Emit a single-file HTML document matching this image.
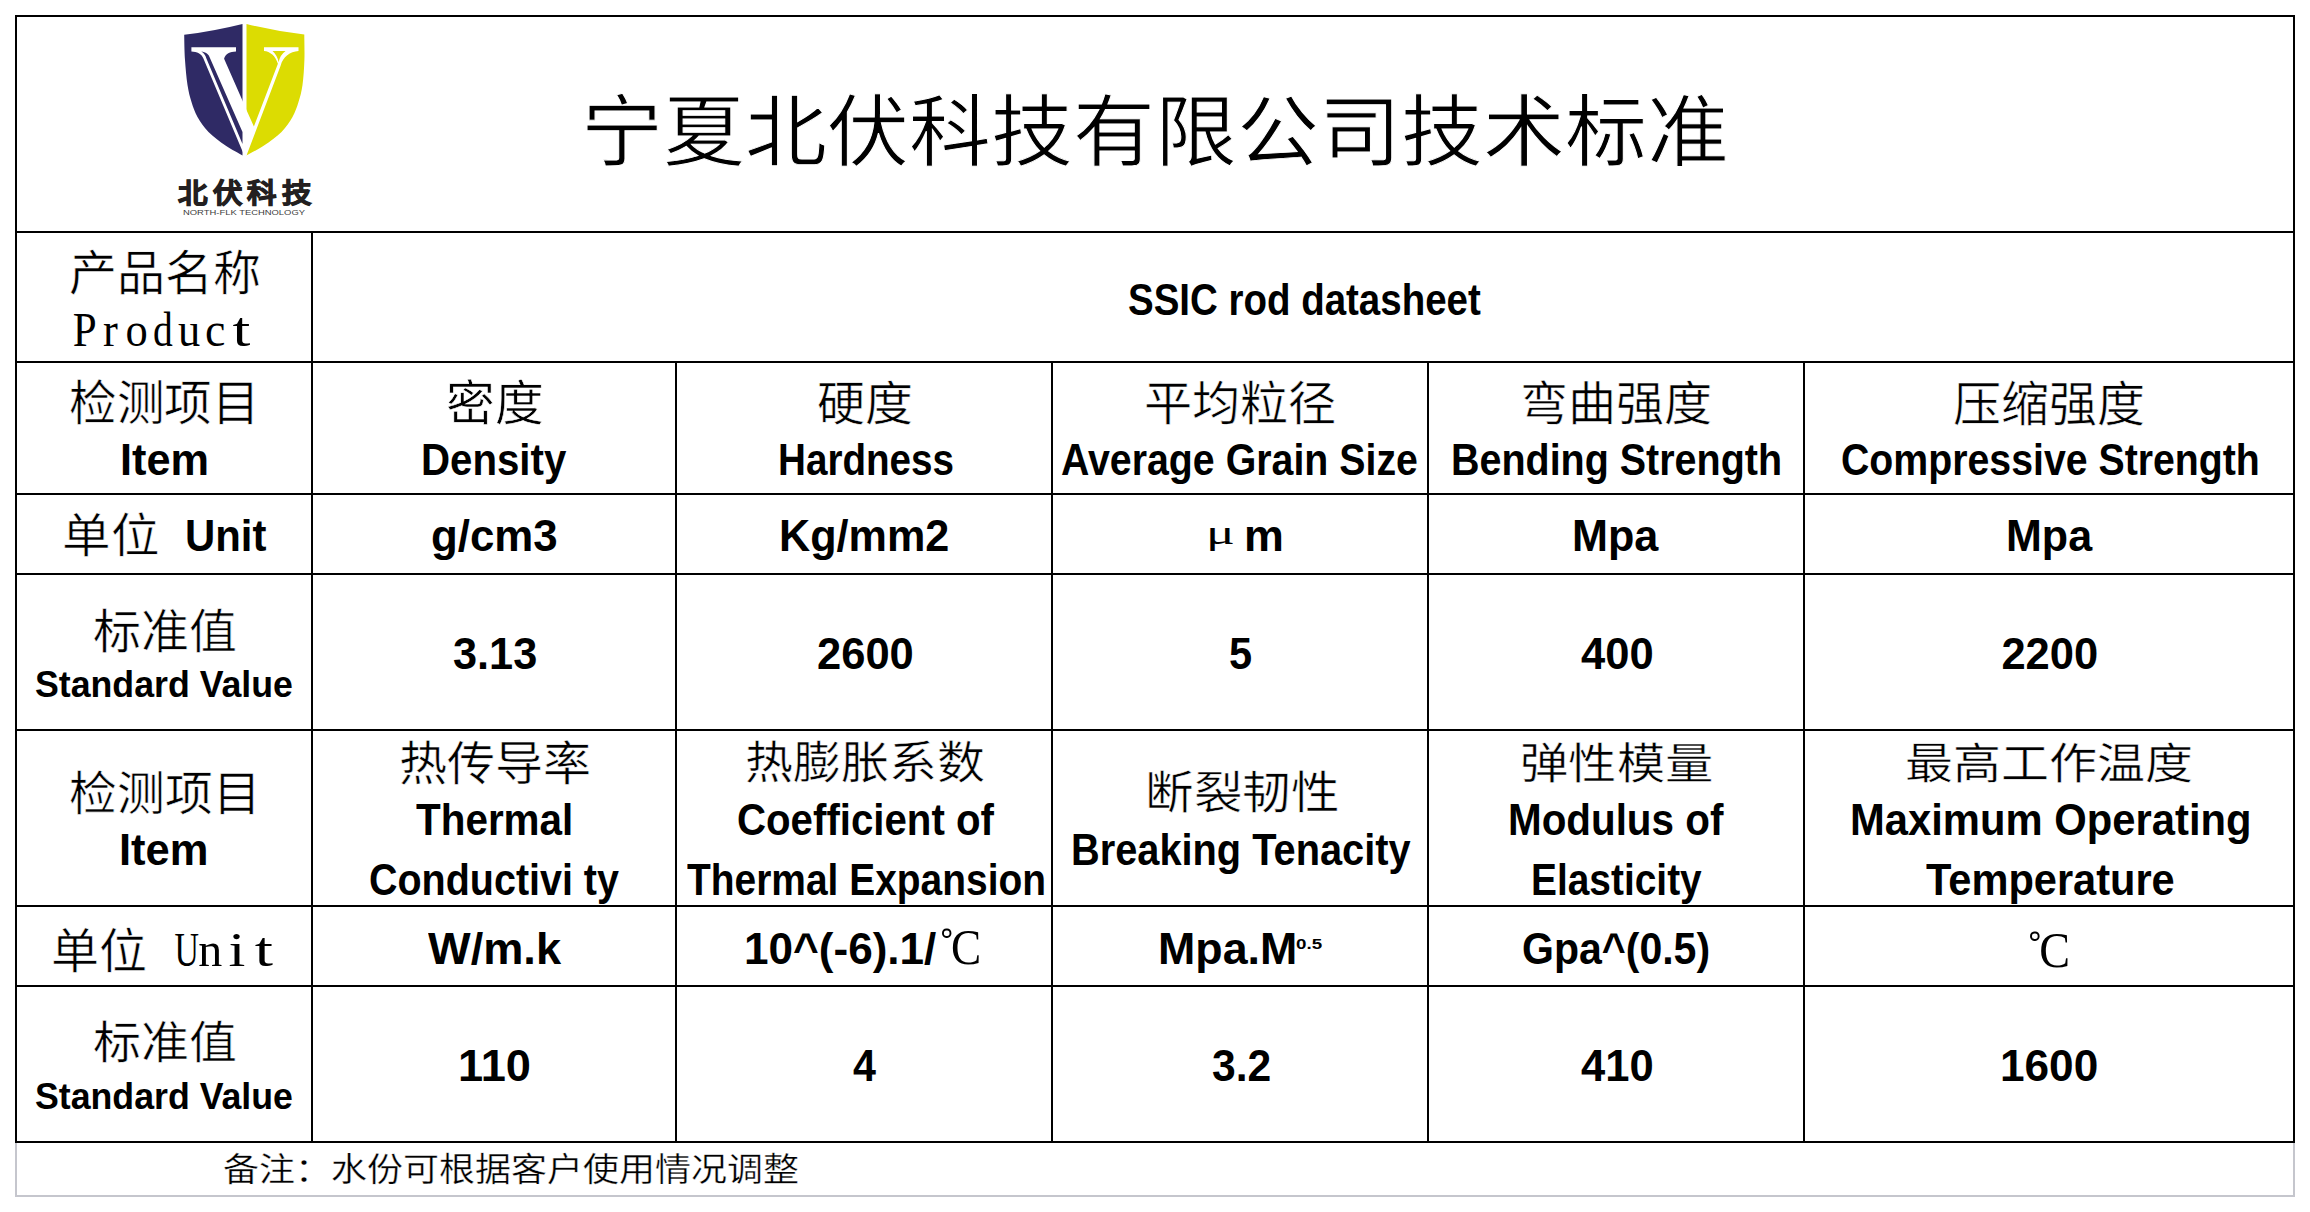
<!DOCTYPE html>
<html lang="zh-CN"><head><meta charset="utf-8"><title>宁夏北伏科技有限公司技术标准</title>
<style>
html,body{margin:0;padding:0;background:#fff;}
body{width:2310px;height:1212px;position:relative;overflow:hidden;color:#000;}
.l{position:absolute;background:#000;}
.g{position:absolute;background:#c5c6cd;}
.t{position:absolute;white-space:nowrap;line-height:1;transform-origin:0 0;}
</style></head><body>

<div class="l" style="left:15px;top:15px;width:2280px;height:2px"></div>
<div class="l" style="left:15px;top:231px;width:2280px;height:2px"></div>
<div class="l" style="left:15px;top:361px;width:2280px;height:2px"></div>
<div class="l" style="left:15px;top:493px;width:2280px;height:2px"></div>
<div class="l" style="left:15px;top:573px;width:2280px;height:2px"></div>
<div class="l" style="left:15px;top:729px;width:2280px;height:2px"></div>
<div class="l" style="left:15px;top:905px;width:2280px;height:2px"></div>
<div class="l" style="left:15px;top:985px;width:2280px;height:2px"></div>
<div class="l" style="left:15px;top:1141px;width:2280px;height:2px"></div>
<div class="l" style="left:15px;top:15px;width:2px;height:1128px"></div>
<div class="l" style="left:2293px;top:15px;width:2px;height:1128px"></div>
<div class="l" style="left:311px;top:231px;width:2px;height:912px"></div>
<div class="l" style="left:675px;top:361px;width:2px;height:782px"></div>
<div class="l" style="left:1051px;top:361px;width:2px;height:782px"></div>
<div class="l" style="left:1427px;top:361px;width:2px;height:782px"></div>
<div class="l" style="left:1803px;top:361px;width:2px;height:782px"></div>
<div class="g" style="left:15px;top:1143px;width:2px;height:54px"></div>
<div class="g" style="left:2293px;top:1143px;width:2px;height:54px"></div>
<div class="g" style="left:15px;top:1195px;width:2280px;height:2px"></div>
<svg style="position:absolute;left:0;top:0" width="400" height="230" viewBox="0 0 400 230">
<path fill="#2f2a65" d="M184.2,34.8 Q214,31 242.5,23.9 L242.5,155.5 C239.7,153.8 231.2,149.4 225.5,145.5 C219.8,141.6 213.2,136.8 208.5,132.0 C203.8,127.2 200.3,122.0 197.5,117.0 C194.7,112.0 193.2,107.3 191.5,102.0 C189.8,96.7 188.6,92.0 187.5,85.0 C186.4,78.0 185.6,68.4 185.0,60.0 C184.4,51.6 184.3,39.0 184.2,34.8 Z"/>
<path fill="#dcdc02" d="M246.5,23.9 Q275,31 304.3,34.4 C304.3,38.7 304.7,51.6 304.4,60.0 C304.1,68.4 303.5,78.0 302.5,85.0 C301.5,92.0 300.2,96.7 298.5,102.0 C296.8,107.3 295.3,112.0 292.5,117.0 C289.7,122.0 286.2,127.2 281.5,132.0 C276.8,136.8 269.8,141.6 264.0,145.5 C258.2,149.4 249.4,153.8 246.5,155.5 Z"/>
<path fill="#fff" d="M191.4,47.2 L236,47.2 L236,51.4 C230,51.6 225.5,53.5 224.1,58.8 L243,101.8 L243,152.4 L203.3,58.3 C201.5,53.5 197,51.6 191.4,51.4 Z"/>
<path fill="#2f2a65" d="M201.3,51.4 C205.5,51.8 209,54 210.05,58.3 L242.5,132 L242.5,144 L206.3,58.3 C205.6,55.5 204,53 201.3,51.4 Z"/>
<path fill="#fff" d="M246,109 L253.9,126.45 L277.9,63.8 C275.5,56 270,51.5 264,51.1 L264,47.2 L298.5,47.2 L298.5,51.1 C290,51.5 283,57 280.6,65.7 L246.5,155.5 L246,155.5 Z"/>
<path fill="#dcdc02" d="M272.5,51.1 L285.6,51.1 Q280,55 278.7,62.3 Q277,55 272.5,51.1 Z"/>
</svg>

<div class="t" style="left:580.9px;top:94.0px;font-family:'Liberation Serif',serif;-webkit-text-stroke:1.0px #fff;font-size:80px;transform:scale(1.0248,0.9797)">宁夏北伏科技有限公司技术标准</div>
<div class="t" style="left:178.0px;top:180.8px;font-family:'Liberation Sans',sans-serif;font-weight:900;color:#231f20;-webkit-text-stroke:1.1px #231f20;letter-spacing:5px;font-size:29px;transform:scale(1.0153,0.9226)">北伏科技</div>
<div class="t" style="left:182.8px;top:209.3px;font-family:'Liberation Sans',sans-serif;color:#3d3d3d;font-size:8px;transform:scale(1.1765,1.0000)">NORTH-FLK TECHNOLOGY</div>
<div class="t" style="left:69.0px;top:250.0px;font-family:'Liberation Serif',serif;-webkit-text-stroke:0.55px #fff;font-size:48px;transform:scale(1.0000,0.9886)">产品名称</div>
<div class="t" style="left:71.0px;top:305.0px;font-family:'Liberation Serif',serif;font-size:49px;transform:scale(1.0086,1.0000)"><span style="display:inline-block;width:26px;text-align:center;transform:scaleX(0.87)">P</span><span style="display:inline-block;width:26px;text-align:center;transform:scaleX(0.9)">r</span><span style="display:inline-block;width:26px;text-align:center;transform:scaleX(0.9)">o</span><span style="display:inline-block;width:26px;text-align:center;transform:scaleX(0.8)">d</span><span style="display:inline-block;width:26px;text-align:center;transform:scaleX(0.9)">u</span><span style="display:inline-block;width:26px;text-align:center;transform:scaleX(0.93)">c</span><span style="display:inline-block;width:26px;text-align:center;transform:scaleX(1.3)">t</span></div>
<div class="t" style="left:1127.7px;top:279.2px;font-family:'Liberation Sans',sans-serif;font-weight:bold;font-size:43.5px;transform:scale(0.8844,1.0000)">SSIC rod datasheet</div>
<div class="t" style="left:69.0px;top:380.0px;font-family:'Liberation Serif',serif;-webkit-text-stroke:0.55px #fff;font-size:48px;transform:scale(0.9923,1.0000)">检测项目</div>
<div class="t" style="left:119.7px;top:439.0px;font-family:'Liberation Sans',sans-serif;font-weight:bold;font-size:43.5px;transform:scale(0.9952,1.0000)">Item</div>
<div class="t" style="left:446.3px;top:380.0px;font-family:'Liberation Serif',serif;-webkit-text-stroke:0.55px #fff;font-size:48px;transform:scale(1.0156,0.9909)">密度</div>
<div class="t" style="left:421.2px;top:438.8px;font-family:'Liberation Sans',sans-serif;font-weight:bold;font-size:43.5px;transform:scale(0.9247,1.0000)">Density</div>
<div class="t" style="left:817.3px;top:380.7px;font-family:'Liberation Serif',serif;-webkit-text-stroke:0.55px #fff;font-size:48px;transform:scale(0.9989,0.9773)">硬度</div>
<div class="t" style="left:777.6px;top:438.8px;font-family:'Liberation Sans',sans-serif;font-weight:bold;font-size:43.5px;transform:scale(0.8881,1.0000)">Hardness</div>
<div class="t" style="left:1144.0px;top:381.0px;font-family:'Liberation Serif',serif;-webkit-text-stroke:0.55px #fff;font-size:48px;transform:scale(1.0032,0.9659)">平均粒径</div>
<div class="t" style="left:1060.9px;top:438.6px;font-family:'Liberation Sans',sans-serif;font-weight:bold;font-size:43.5px;transform:scale(0.9038,1.0000)">Average Grain Size</div>
<div class="t" style="left:1520.1px;top:380.7px;font-family:'Liberation Serif',serif;-webkit-text-stroke:0.55px #fff;font-size:48px;transform:scale(1.0032,0.9727)">弯曲强度</div>
<div class="t" style="left:1451.2px;top:438.8px;font-family:'Liberation Sans',sans-serif;font-weight:bold;font-size:43.5px;transform:scale(0.9072,1.0000)">Bending Strength</div>
<div class="t" style="left:1953.2px;top:380.6px;font-family:'Liberation Serif',serif;-webkit-text-stroke:0.55px #fff;font-size:48px;transform:scale(1.0005,0.9886)">压缩强度</div>
<div class="t" style="left:1841.0px;top:438.8px;font-family:'Liberation Sans',sans-serif;font-weight:bold;font-size:43.5px;transform:scale(0.9024,1.0000)">Compressive Strength</div>
<div class="t" style="left:62.0px;top:513.0px;font-family:'Liberation Serif',serif;-webkit-text-stroke:0.55px #fff;font-size:48px;transform:scale(1.0110,0.9705)">单位</div>
<div class="t" style="left:185.1px;top:515.4px;font-family:'Liberation Sans',sans-serif;font-weight:bold;font-size:43.5px;transform:scale(0.9630,1.0000)">Unit</div>
<div class="t" style="left:430.7px;top:515.4px;font-family:'Liberation Sans',sans-serif;font-weight:bold;font-size:43.5px;transform:scale(1.0074,1.0000)">g/cm3</div>
<div class="t" style="left:779.0px;top:515.4px;font-family:'Liberation Sans',sans-serif;font-weight:bold;font-size:43.5px;transform:scale(0.9922,1.0000)">Kg/mm2</div>
<div class="t" style="left:1206.0px;top:516.3px;font-family:'Liberation Serif',serif;font-size:40px;transform:scale(1.3412,0.8357)">μ</div>
<div class="t" style="left:1243.7px;top:515.4px;font-family:'Liberation Sans',sans-serif;font-weight:bold;font-size:43.5px;transform:scale(1.0303,1.0000)">m</div>
<div class="t" style="left:1571.7px;top:515.4px;font-family:'Liberation Sans',sans-serif;font-weight:bold;font-size:43.5px;transform:scale(0.9917,1.0000)">Mpa</div>
<div class="t" style="left:2005.7px;top:515.4px;font-family:'Liberation Sans',sans-serif;font-weight:bold;font-size:43.5px;transform:scale(0.9893,1.0000)">Mpa</div>
<div class="t" style="left:92.7px;top:608.6px;font-family:'Liberation Serif',serif;-webkit-text-stroke:0.55px #fff;font-size:48px;transform:scale(1.0000,0.9727)">标准值</div>
<div class="t" style="left:34.6px;top:666.6px;font-family:'Liberation Sans',sans-serif;font-weight:bold;font-size:36.5px;transform:scale(0.9782,1.0000)">Standard Value</div>
<div class="t" style="left:453.0px;top:633.4px;font-family:'Liberation Sans',sans-serif;font-weight:bold;font-size:43.5px;transform:scale(0.9951,1.0000)">3.13</div>
<div class="t" style="left:817.0px;top:633.4px;font-family:'Liberation Sans',sans-serif;font-weight:bold;font-size:43.5px;transform:scale(1.0000,1.0000)">2600</div>
<div class="t" style="left:1229.3px;top:633.4px;font-family:'Liberation Sans',sans-serif;font-weight:bold;font-size:43.5px;transform:scale(0.9545,1.0000)">5</div>
<div class="t" style="left:1580.7px;top:633.4px;font-family:'Liberation Sans',sans-serif;font-weight:bold;font-size:43.5px;transform:scale(1.0014,1.0000)">400</div>
<div class="t" style="left:2001.4px;top:633.4px;font-family:'Liberation Sans',sans-serif;font-weight:bold;font-size:43.5px;transform:scale(1.0000,1.0000)">2200</div>
<div class="t" style="left:69.3px;top:770.7px;font-family:'Liberation Serif',serif;-webkit-text-stroke:0.55px #fff;font-size:48px;transform:scale(0.9967,0.9750)">检测项目</div>
<div class="t" style="left:119.0px;top:829.0px;font-family:'Liberation Sans',sans-serif;font-weight:bold;font-size:43.5px;transform:scale(1.0000,1.0000)">Item</div>
<div class="t" style="left:399.0px;top:740.7px;font-family:'Liberation Serif',serif;-webkit-text-stroke:0.55px #fff;font-size:48px;transform:scale(1.0022,0.9750)">热传导率</div>
<div class="t" style="left:415.6px;top:799.0px;font-family:'Liberation Sans',sans-serif;font-weight:bold;font-size:43.5px;transform:scale(0.9295,1.0000)">Thermal</div>
<div class="t" style="left:368.9px;top:859.0px;font-family:'Liberation Sans',sans-serif;font-weight:bold;font-size:43.5px;transform:scale(0.9073,1.0000)">Conductivi ty</div>
<div class="t" style="left:745.4px;top:741.0px;font-family:'Liberation Serif',serif;-webkit-text-stroke:0.55px #fff;font-size:48px;transform:scale(0.9996,0.9545)">热膨胀系数</div>
<div class="t" style="left:736.6px;top:799.0px;font-family:'Liberation Sans',sans-serif;font-weight:bold;font-size:43.5px;transform:scale(0.9246,1.0000)">Coefficient of</div>
<div class="t" style="left:687.0px;top:859.0px;font-family:'Liberation Sans',sans-serif;font-weight:bold;font-size:43.5px;transform:scale(0.8947,1.0000)">Thermal Expansion</div>
<div class="t" style="left:1144.7px;top:770.7px;font-family:'Liberation Serif',serif;-webkit-text-stroke:0.55px #fff;font-size:48px;transform:scale(1.0119,0.9545)">断裂韧性</div>
<div class="t" style="left:1070.9px;top:829.0px;font-family:'Liberation Sans',sans-serif;font-weight:bold;font-size:43.5px;transform:scale(0.9141,1.0000)">Breaking Tenacity</div>
<div class="t" style="left:1519.7px;top:743.0px;font-family:'Liberation Serif',serif;-webkit-text-stroke:0.55px #fff;font-size:48px;transform:scale(1.0070,0.9091)">弹性模量</div>
<div class="t" style="left:1507.9px;top:799.0px;font-family:'Liberation Sans',sans-serif;font-weight:bold;font-size:43.5px;transform:scale(0.9284,1.0000)">Modulus of</div>
<div class="t" style="left:1531.3px;top:859.0px;font-family:'Liberation Sans',sans-serif;font-weight:bold;font-size:43.5px;transform:scale(0.8936,1.0000)">Elasticity</div>
<div class="t" style="left:1905.2px;top:743.0px;font-family:'Liberation Serif',serif;-webkit-text-stroke:0.55px #fff;font-size:48px;transform:scale(1.0000,0.9091)">最高工作温度</div>
<div class="t" style="left:1849.8px;top:799.0px;font-family:'Liberation Sans',sans-serif;font-weight:bold;font-size:43.5px;transform:scale(0.9602,1.0000)">Maximum Operating</div>
<div class="t" style="left:1925.8px;top:859.0px;font-family:'Liberation Sans',sans-serif;font-weight:bold;font-size:43.5px;transform:scale(0.9556,1.0000)">Temperature</div>
<div class="t" style="left:51.0px;top:928.0px;font-family:'Liberation Serif',serif;-webkit-text-stroke:0.55px #fff;font-size:48px;transform:scale(1.0000,0.9909)">单位</div>
<div class="t" style="left:169.5px;top:924.9px;font-family:'Liberation Serif',serif;font-size:49px;transform:scale(1.0316,1.0000)"><span style="display:inline-block;width:26px;text-align:center;transform:scaleX(0.67)">U</span><span style="display:inline-block;width:26px;text-align:center;transform:scaleX(0.95)">n</span><span style="display:inline-block;width:26px;text-align:center;transform:scaleX(1.2)">i</span><span style="display:inline-block;width:26px;text-align:center;transform:scaleX(1.3)">t</span></div>
<div class="t" style="left:428.4px;top:927.5px;font-family:'Liberation Sans',sans-serif;font-weight:bold;font-size:43.5px;transform:scale(1.0383,1.0000)">W/m.k</div>
<div class="t" style="left:744.0px;top:927.5px;font-family:'Liberation Sans',sans-serif;font-weight:bold;font-size:43.5px;transform:scale(1.0134,1.0000)">10^(-6).1/</div>
<div class="t" style="left:941.7px;top:920.9px;font-family:'Liberation Serif',serif;font-size:48px;transform:scale(0.9436,1.0636)"><span style="display:inline-block;box-sizing:border-box;width:9.5px;height:9.5px;border:2.3px solid #000;border-radius:50%;vertical-align:0.5em;margin-right:0px"></span>C</div>
<div class="t" style="left:1157.9px;top:927.5px;font-family:'Liberation Sans',sans-serif;font-weight:bold;font-size:43.5px;transform:scale(1.0292,1.0000)">Mpa.M</div>
<div class="t" style="left:1296.4px;top:936.9px;font-family:'Liberation Sans',sans-serif;font-weight:bold;font-size:16px;transform:scale(1.1714,0.9333)">0.5</div>
<div class="t" style="left:1521.9px;top:927.5px;font-family:'Liberation Sans',sans-serif;font-weight:bold;font-size:43.5px;transform:scale(0.9429,1.0000)">Gpa^(0.5)</div>
<div class="t" style="left:2029.8px;top:924.4px;font-family:'Liberation Serif',serif;font-size:48px;transform:scale(0.9615,1.0636)"><span style="display:inline-block;box-sizing:border-box;width:9.5px;height:9.5px;border:2.3px solid #000;border-radius:50%;vertical-align:0.5em;margin-right:0px"></span>C</div>
<div class="t" style="left:92.7px;top:1021.4px;font-family:'Liberation Serif',serif;-webkit-text-stroke:0.55px #fff;font-size:48px;transform:scale(1.0000,0.9432)">标准值</div>
<div class="t" style="left:34.6px;top:1078.6px;font-family:'Liberation Sans',sans-serif;font-weight:bold;font-size:36.5px;transform:scale(0.9782,1.0000)">Standard Value</div>
<div class="t" style="left:458.2px;top:1045.4px;font-family:'Liberation Sans',sans-serif;font-weight:bold;font-size:43.5px;transform:scale(1.0394,1.0000)">110</div>
<div class="t" style="left:853.1px;top:1045.4px;font-family:'Liberation Sans',sans-serif;font-weight:bold;font-size:43.5px;transform:scale(0.9478,1.0000)">4</div>
<div class="t" style="left:1211.8px;top:1045.4px;font-family:'Liberation Sans',sans-serif;font-weight:bold;font-size:43.5px;transform:scale(0.9793,1.0000)">3.2</div>
<div class="t" style="left:1580.7px;top:1045.4px;font-family:'Liberation Sans',sans-serif;font-weight:bold;font-size:43.5px;transform:scale(1.0014,1.0000)">410</div>
<div class="t" style="left:2000.0px;top:1045.4px;font-family:'Liberation Sans',sans-serif;font-weight:bold;font-size:43.5px;transform:scale(1.0152,1.0000)">1600</div>
<div class="t" style="left:222.9px;top:1153.5px;font-family:'Liberation Serif',serif;-webkit-text-stroke:0.35px #fff;font-size:35px;transform:scale(1.0282,0.9455)">备注：水份可根据客户使用情况调整</div>
</body></html>
